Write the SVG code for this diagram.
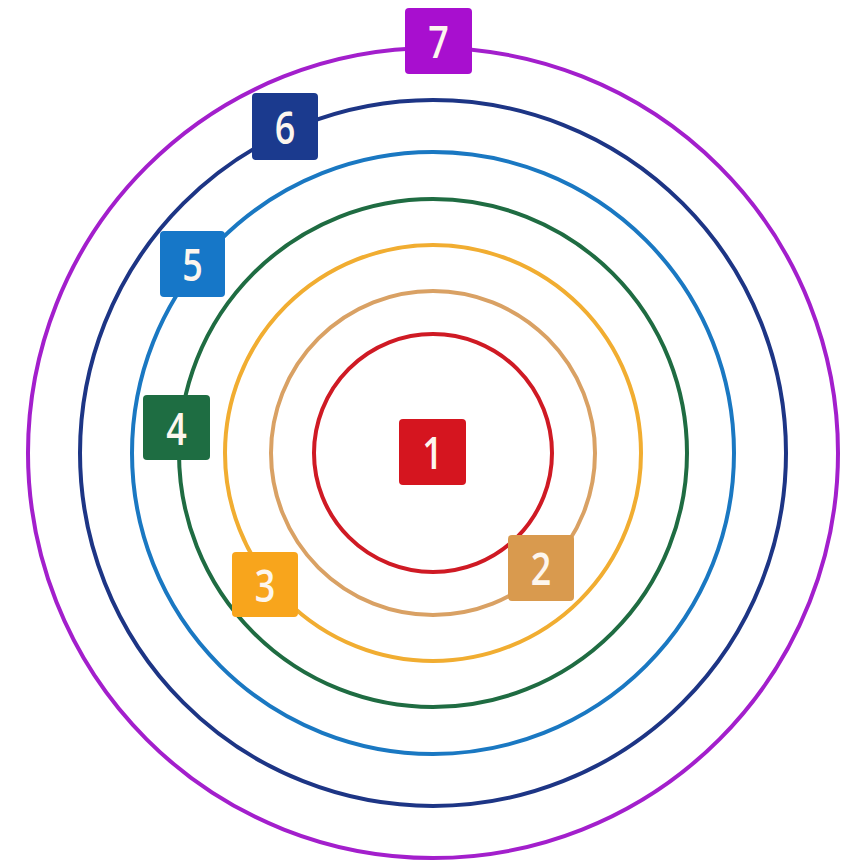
<svg xmlns="http://www.w3.org/2000/svg" width="851" height="865" viewBox="0 0 851 865">
<style>
.ring{fill:none;stroke-width:4}
.box{stroke:none}
.lbl{font-family:"Open Sans","Liberation Sans",Arial,sans-serif;font-weight:600;font-size:46px;fill:#fdf6ee;text-anchor:middle}
</style>
<rect width="851" height="865" fill="#ffffff"/>
<g id="connectors">
<circle class="ring" cx="433" cy="453" r="405" stroke="#a31fcc"/>
<circle class="ring" cx="433" cy="453" r="353" stroke="#1d3585"/>
<circle class="ring" cx="433" cy="453" r="301" stroke="#1a78c2"/>
<circle class="ring" cx="433" cy="453" r="254" stroke="#1f6c42"/>
<circle class="ring" cx="433" cy="453" r="208" stroke="#f1ad31"/>
<circle class="ring" cx="433" cy="453" r="162" stroke="#d9a164"/>
<circle class="ring" cx="433" cy="453" r="119" stroke="#cf1a24"/>
</g>
<g id="n1"><rect class="box" x="399" y="419" width="67" height="66" rx="4" fill="#d5151f"/><text class="lbl" transform="translate(432.5 469) scale(0.78 1)">1</text></g>
<g id="n2"><rect class="box" x="508" y="535" width="66" height="66" rx="4" fill="#d99a4e"/><text class="lbl" transform="translate(541 585) scale(0.78 1)">2</text></g>
<g id="n3"><rect class="box" x="232" y="552" width="66" height="65" rx="4" fill="#f8a51c"/><text class="lbl" transform="translate(265 602) scale(0.78 1)">3</text></g>
<g id="n4"><rect class="box" x="143" y="395" width="67" height="65" rx="4" fill="#1e6d42"/><text class="lbl" transform="translate(176.5 445) scale(0.78 1)">4</text></g>
<g id="n5"><rect class="box" x="160" y="231" width="65" height="66" rx="4" fill="#1677c8"/><text class="lbl" transform="translate(192.5 281) scale(0.78 1)">5</text></g>
<g id="n6"><rect class="box" x="252" y="93" width="66" height="67" rx="4" fill="#1b3a8e"/><text class="lbl" transform="translate(285 144) scale(0.78 1)">6</text></g>
<g id="n7"><rect class="box" x="405" y="8" width="67" height="66" rx="4" fill="#a80fcf"/><text class="lbl" transform="translate(438.5 58) scale(0.78 1)">7</text></g>
</svg>
